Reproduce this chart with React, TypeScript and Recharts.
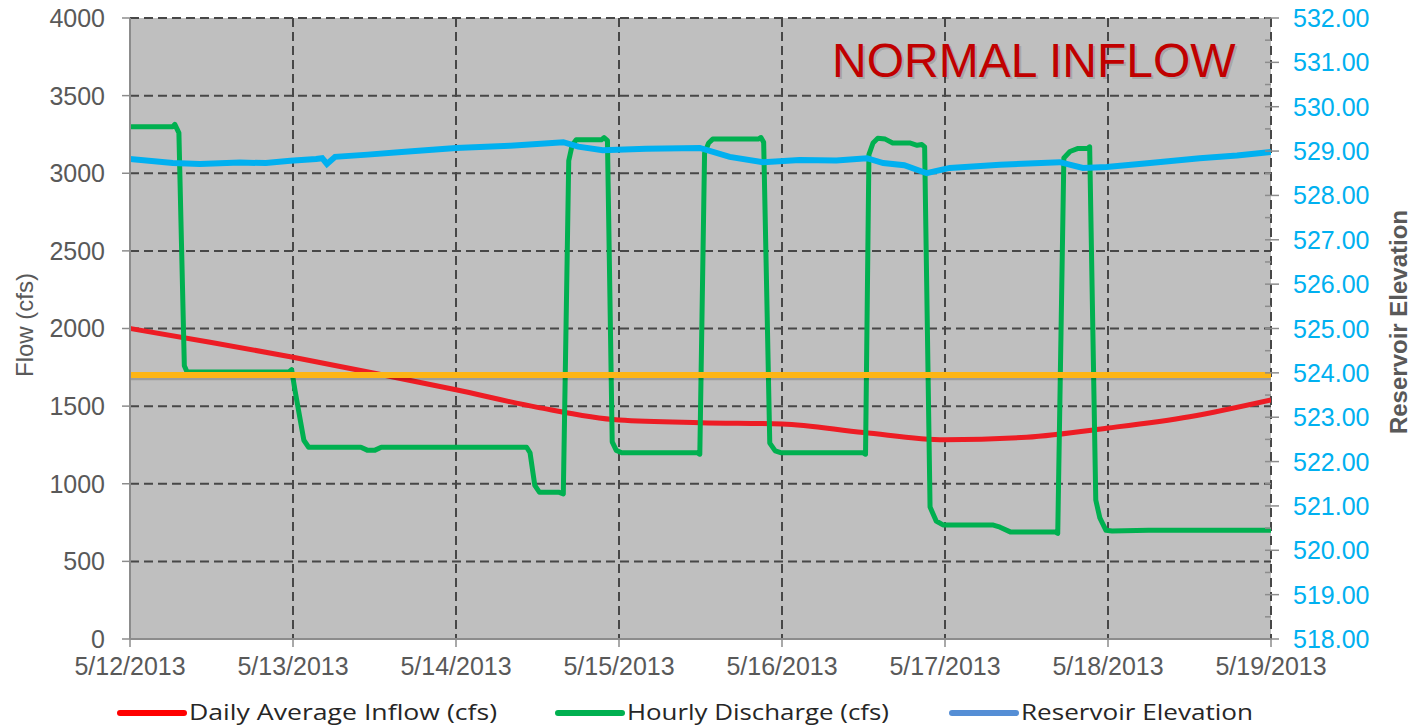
import React from "react";
import {
  LineChart,
  Line,
  XAxis,
  YAxis,
  CartesianGrid,
  ReferenceLine,
  Legend,
} from "recharts";

// hours since 5/12/2013 00:00
const dayLabels = [
  "5/12/2013",
  "5/13/2013",
  "5/14/2013",
  "5/15/2013",
  "5/16/2013",
  "5/17/2013",
  "5/18/2013",
  "5/19/2013",
];
const dayTicks = [0, 24, 48, 72, 96, 120, 144, 168];

const flowTicks = [0, 500, 1000, 1500, 2000, 2500, 3000, 3500, 4000];
const elevTicks = [
  518, 518.5, 519, 519.5, 520, 520.5, 521, 521.5, 522, 522.5, 523, 523.5, 524,
  524.5, 525, 525.5, 526, 526.5, 527, 527.5, 528, 528.5, 529, 529.5, 530, 530.5,
  531, 531.5, 532,
];

// Daily Average Inflow (cfs)
const inflowHours = [0, 12, 24, 36, 48, 60, 72, 84, 96, 108, 120, 132, 144, 156, 168];
const inflowValues = [
  2000, 1910, 1815, 1712, 1605, 1492, 1410, 1393, 1385, 1330, 1283, 1300, 1359, 1432, 1540,
];

// Hourly Discharge (cfs)
const dischargeHours = [
  0, 6.3, 6.6, 7.2, 8.0, 8.4, 23.4, 23.8, 24.3, 25.6, 26.3, 34, 35, 36, 37, 58.4,
  58.9, 59.6, 60.3, 63.2, 63.8, 64.6, 65.1, 65.7, 69.4, 69.8, 70.3, 71.0, 71.6,
  72.4, 83.5, 83.9, 84.6, 85.2, 85.8, 92.5, 92.9, 93.3, 94.2, 95.0, 95.8, 107.9,
  108.3, 108.8, 109.4, 110.1, 111.2, 112.3, 114.8, 115.9, 116.6, 117.0, 117.8,
  118.7, 119.7, 127.0, 128.1, 129.6, 136.2, 136.6, 137.5, 138.4, 139.6, 141.0,
  141.3, 142.2, 142.8, 143.7, 144.6, 150, 168,
];
const dischargeValues = [
  3300, 3300, 3315, 3260, 1760, 1720, 1720, 1735, 1600, 1280, 1235, 1235, 1215,
  1215, 1235, 1235, 1200, 990, 945, 945, 935, 3080, 3180, 3215, 3215, 3230, 3210,
  1270, 1215, 1200, 1200, 1190, 3130, 3195, 3220, 3220, 3230, 3200, 1262, 1212,
  1200, 1200, 1190, 3120, 3195, 3225, 3220, 3195, 3195, 3180, 3185, 3170, 850,
  760, 735, 735, 720, 690, 690, 680, 3098, 3140, 3160, 3160, 3170, 895, 780, 700,
  695, 700, 700,
];

// Reservoir Elevation
const elevHours = [
  0, 6.3, 10.3, 16.2, 20, 23.6, 27.4, 28.3, 29.0, 30.2, 35, 40, 48, 56, 63.8, 66,
  69.6, 76, 83.9, 88.3, 93.2, 98.6, 104, 108.5, 110.9, 114, 117.3, 120.7, 128.1,
  136.9, 140.3, 143.8, 150.2, 157.5, 163, 168,
];
const elevValues = [
  528.82, 528.73, 528.71, 528.74, 528.73, 528.78, 528.82, 528.84, 528.71, 528.87,
  528.92, 528.98, 529.07, 529.12, 529.2, 529.1, 529.02, 529.05, 529.07, 528.87,
  528.75, 528.8, 528.79, 528.84, 528.73, 528.68, 528.5, 528.62, 528.69, 528.75,
  528.62, 528.64, 528.73, 528.84, 528.9, 528.98,
];

const targetFlow = 1700;

const legendItems = [
  { label: "Daily Average Inflow (cfs)", color: "#FF0000", x: 120, w: 308 },
  { label: "Hourly Discharge (cfs)", color: "#00B050", x: 558, w: 262 },
  { label: "Reservoir Elevation", color: "#558ED5", x: 952, w: 232 },
];

const toRows = (hs: number[], vs: number[]) => hs.map((h, i) => ({ h, v: vs[i] }));

const inflowData = toRows(inflowHours, inflowValues);
const dischargeData = toRows(dischargeHours, dischargeValues);
const elevData = toRows(elevHours, elevValues);

const FONT = "'Liberation Sans', Arial, sans-serif";
const AXIS_GRAY = "#8c8c8c";

function ElevTick(props: any) {
  const { x, y, payload } = props;
  const v = payload.value as number;
  const major = Math.abs(v - Math.round(v)) < 1e-6;
  const ax = x - 22;
  return (
    <g>
      <line
        x1={ax - 6}
        x2={major ? ax + 8 : ax}
        y1={y}
        y2={y}
        stroke={AXIS_GRAY}
        strokeWidth={1.5}
      />
      {major && (
        <text
          x={x}
          y={y}
          dy="0.36em"
          textAnchor="start"
          fill="#00B0F0"
          fontSize={25}
          fontFamily={FONT}
        >
          {v.toFixed(2)}
        </text>
      )}
    </g>
  );
}

function LegendBox() {
  return (
    <svg width={1414} height={40} style={{ display: "block" }}>
      {legendItems.map((it) => (
        <g key={it.label}>
          <line
            x1={it.x}
            x2={it.x + 64}
            y1={26}
            y2={26}
            stroke={it.color}
            strokeWidth={6}
            strokeLinecap="round"
          />
          <text
            x={it.x + 69}
            y={33}
            fontSize={22}
            fill="#262626"
            fontFamily="'Open Sans', 'Noto Sans', sans-serif"
            textLength={it.w}
            lengthAdjust="spacingAndGlyphs"
          >
            {it.label}
          </text>
        </g>
      ))}
    </svg>
  );
}

export default function App() {
  return (
    <div style={{ position: "absolute", left: 0, top: 0 }}>
      <LineChart
        width={1414}
        height={727}
        margin={{ top: 18, right: 0, bottom: 0, left: 0 }}
      >
        <CartesianGrid
          xAxisId="x"
          yAxisId="left"
          fill="#BFBFBF"
          stroke="#474747"
          strokeWidth={2}
          strokeDasharray="9 5"
          horizontalValues={flowTicks.slice(1)}
          verticalValues={dayTicks.slice(1)}
        />
        <XAxis
          xAxisId="x"
          dataKey="h"
          type="number"
          domain={[0, 168]}
          ticks={dayTicks}
          interval={0}
          height={48}
          tickSize={8}
          tickMargin={10}
          tickFormatter={(h: number) => dayLabels[dayTicks.indexOf(h)]}
          tick={{ fontSize: 25, fill: "#595959", fontFamily: FONT }}
          axisLine={{ stroke: AXIS_GRAY, strokeWidth: 2 }}
          tickLine={{ stroke: AXIS_GRAY, strokeWidth: 1.5 }}
          allowDataOverflow
        />
        <YAxis
          yAxisId="left"
          width={130}
          domain={[0, 4000]}
          ticks={flowTicks}
          interval={0}
          tickSize={8}
          tickMargin={17}
          tick={{ fontSize: 25, fill: "#595959", fontFamily: FONT }}
          axisLine={{ stroke: AXIS_GRAY, strokeWidth: 2 }}
          tickLine={{ stroke: AXIS_GRAY, strokeWidth: 1.5 }}
        />
        <YAxis
          yAxisId="right"
          orientation="right"
          width={143}
          domain={[518, 532]}
          ticks={elevTicks}
          interval={0}
          tickSize={8}
          tickMargin={14}
          tick={<ElevTick />}
          tickLine={false}
          axisLine={false}
        />
        <Line
          xAxisId="x"
          yAxisId="left"
          data={inflowData}
          dataKey="v"
          name="Daily Average Inflow (cfs)"
          type="monotone"
          stroke="#ED1C24"
          strokeWidth={5}
          dot={false}
          isAnimationActive={false}
        />
        <Line
          xAxisId="x"
          yAxisId="left"
          data={dischargeData}
          dataKey="v"
          name="Hourly Discharge (cfs)"
          type="linear"
          stroke="#00B050"
          strokeWidth={5}
          strokeLinejoin="round"
          dot={false}
          isAnimationActive={false}
        />
        <Line
          xAxisId="x"
          yAxisId="right"
          data={elevData}
          dataKey="v"
          name="Reservoir Elevation"
          type="linear"
          stroke="#00B0F0"
          strokeWidth={6}
          dot={false}
          isAnimationActive={false}
        />
        {/* target flow bar with a soft shadow */}
        <ReferenceLine
          xAxisId="x"
          yAxisId="left"
          y={targetFlow - 17}
          stroke="#000"
          strokeOpacity={0.18}
          strokeWidth={5}
        />
        <ReferenceLine
          xAxisId="x"
          yAxisId="left"
          y={targetFlow}
          stroke="#FDB515"
          strokeWidth={6}
        />
        <Legend verticalAlign="bottom" height={40} content={() => <LegendBox />} />
        <text
          x={834}
          y={79}
          fontSize={48}
          fill="#000"
          fillOpacity={0.15}
          fontFamily={FONT}
        >
          NORMAL INFLOW
        </text>
        <text x={832} y={77} fontSize={48} fill="#C00000" fontFamily={FONT}>
          NORMAL INFLOW
        </text>
        <text
          x={24}
          y={325}
          transform="rotate(-90 24 325)"
          textAnchor="middle"
          dominantBaseline="central"
          fontSize={24}
          fill="#595959"
          fontFamily={FONT}
        >
          Flow (cfs)
        </text>
        <text
          x={1398}
          y={322}
          transform="rotate(-90 1398 322)"
          textAnchor="middle"
          dominantBaseline="central"
          fontSize={24}
          fontWeight="bold"
          fill="#595959"
          fontFamily={FONT}
        >
          Reservoir Elevation
        </text>
      </LineChart>
    </div>
  );
}
